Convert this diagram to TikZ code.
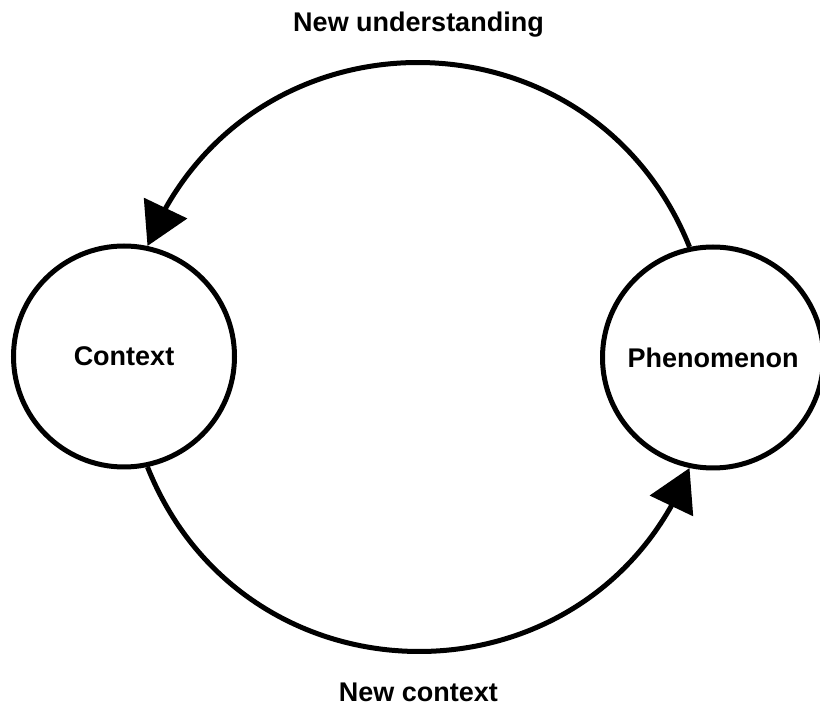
\documentclass[tikz,border=0pt]{standalone}
\usepackage{fontspec}
\setmainfont{Liberation Sans}
\usetikzlibrary{arrows.meta,bending}
\begin{document}
\begin{tikzpicture}[x=1pt,y=1pt,
  every node/.style={font=\fontsize{27}{32}\selectfont\bfseries},
  bubble/.style={circle,draw=black,line width=5pt,minimum size=221pt,inner sep=0pt},
  flow/.style={line width=5pt,-{Triangle[length=42pt,width=47pt]}},
  lbl/.style={anchor=base,inner sep=0pt}]
\clip (0,0) rectangle (820,705);
\useasboundingbox (0,0) rectangle (820,705);
\node[bubble] (ctx) at (124,348.5) {Context};
\node[bubble] (ph) at (713,347.5) {Phenomenon};
\node[lbl] (top) at (418.5,673) {New understanding};
\node[lbl] (bot) at (418.5,4) {New context};
\draw[flow] (ph.102) to[out=111.8,in=68.2,looseness=1.245] (ctx.78);
\draw[flow] (ctx.-78) to[out=-68.2,in=-111.8,looseness=1.245] (ph.-102);
\end{tikzpicture}
\end{document}
